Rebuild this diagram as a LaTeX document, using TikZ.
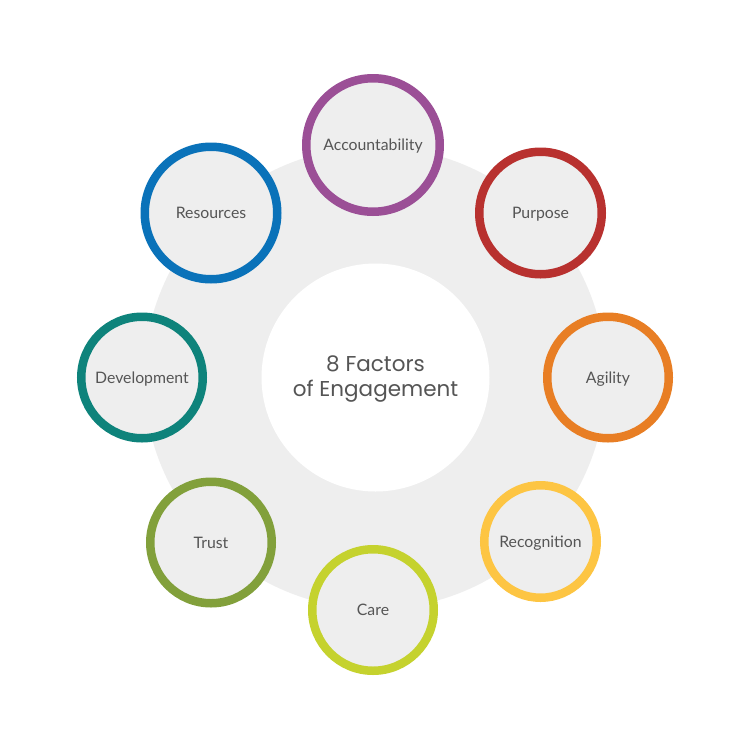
\documentclass[tikz,border=0pt]{standalone}
\usepackage{fontspec}
\setmainfont{Lato}
\newfontfamily\hubfont{Poppins}
\definecolor{bgray}{HTML}{EEEEEE}
\definecolor{txt}{HTML}{555555}
\definecolor{cAcc}{HTML}{9B4F96}
\definecolor{cPur}{HTML}{B8312F}
\definecolor{cAgi}{HTML}{E87E24}
\definecolor{cRec}{HTML}{FDC543}
\definecolor{cCar}{HTML}{C5D22E}
\definecolor{cTru}{HTML}{82A03B}
\definecolor{cDev}{HTML}{0E837B}
\definecolor{cRes}{HTML}{0A72B9}
\tikzset{
  factor/.style={circle, draw=#1, line width=8.5pt, fill=bgray, inner sep=0pt,
    text=txt, font=\fontsize{15.8}{19}\selectfont, text height=11.3pt, text depth=0pt},
}
\begin{document}
\begin{tikzpicture}[x=1pt,y=-1pt]
\useasboundingbox (0,0) rectangle (750,750);
\fill[white] (0,0) rectangle (750,750);
\node[circle, fill=bgray, minimum size=462pt, inner sep=0pt] (ring) at (375,378) {};
\node[circle, fill=white, minimum size=228pt, inner sep=0pt] (hub) at (375.5,377.5) {};
\node[text=txt, align=center, inner sep=0pt, font=\hubfont\fontsize{21.5}{25}\selectfont]
  (title) at (375.5,379) {8 Factors\\of Engagement};
\node[factor=cAcc, minimum size=133.5pt] (acc) at (373,145) {Accountability};
\node[factor=cPur, minimum size=122.5pt] (pur) at (540.5,213) {Purpose};
\node[factor=cAgi, minimum size=121.5pt] (agi) at (608,377.5) {Agility};
\node[factor=cRec, minimum size=112.5pt] (rec) at (540.5,541.5) {Recognition};
\node[factor=cCar, minimum size=121.5pt] (car) at (373,610) {Care};
\node[factor=cTru, minimum size=121.5pt] (tru) at (211,542.5) {Trust};
\node[factor=cDev, minimum size=121.5pt] (dev) at (142,377.5) {Development};
\node[factor=cRes, minimum size=132.5pt] (res) at (211,213) {Resources};
\end{tikzpicture}
\end{document}
